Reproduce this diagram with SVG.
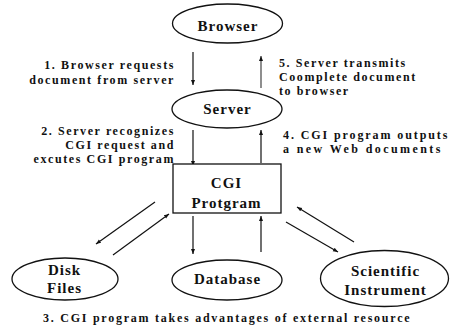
<svg xmlns="http://www.w3.org/2000/svg" width="451" height="327" viewBox="0 0 451 327">
<style>
.node{fill:#fff;stroke:#111;stroke-width:1.3}
.nt{font-family:'Liberation Serif','Times New Roman',serif;font-weight:700;font-size:15px;letter-spacing:1px;fill:#111;text-anchor:middle}
.lb{font-family:'Liberation Serif','Times New Roman',serif;font-weight:700;font-size:12px;letter-spacing:1.6px;fill:#111}
.r{text-anchor:end}
.c{stroke:#111;stroke-width:1.2;fill:none;marker-end:url(#ah)}
</style>
<defs>
<marker id="ah" viewBox="0 0 10 10" refX="10" refY="5" markerWidth="5" markerHeight="5" markerUnits="userSpaceOnUse" orient="auto">
<path d="M0,1 L10,5 L0,9 Z" fill="#111"/>
</marker>
</defs>
<rect width="451" height="327" fill="#fff"/>
<g id="connectors">
<line class="c" x1="193" y1="52" x2="193" y2="85"/>
<line class="c" x1="261" y1="88" x2="261" y2="56" style="stroke:#444"/>
<line class="c" x1="193" y1="130" x2="193" y2="166"/>
<line class="c" x1="261" y1="163" x2="261" y2="130"/>
<line class="c" x1="193" y1="216" x2="193" y2="254"/>
<line class="c" x1="261" y1="252" x2="261" y2="216"/>
<line class="c" x1="155" y1="202" x2="96" y2="244"/>
<line class="c" x1="113" y1="255" x2="169" y2="214"/>
<line class="c" x1="286" y1="222" x2="338" y2="252"/>
<line class="c" x1="354" y1="242" x2="297" y2="207"/>
</g>
<g id="browser">
<ellipse class="node" cx="227.5" cy="23.5" rx="55" ry="19.5"/>
<text class="nt" x="228" y="31">Browser</text>
</g>
<g id="server">
<ellipse class="node" cx="227" cy="109" rx="55" ry="19"/>
<text class="nt" x="227.5" y="114">Server</text>
</g>
<g id="cgi">
<rect class="node" x="173" y="164" width="108" height="49" stroke-width="1.6"/>
<text class="nt" x="226.5" y="188">CGI</text>
<text class="nt" x="226.5" y="208">Protgram</text>
</g>
<g id="disk">
<ellipse class="node" cx="65" cy="279" rx="53" ry="21"/>
<text class="nt" x="64.5" y="275">Disk</text>
<text class="nt" x="64.5" y="293">Files</text>
</g>
<g id="database">
<ellipse class="node" cx="227" cy="280" rx="55" ry="20"/>
<text class="nt" x="227.5" y="284">Database</text>
</g>
<g id="scientific">
<ellipse class="node" cx="384.5" cy="278.5" rx="64" ry="28"/>
<text class="nt" x="385.5" y="276">Scientific</text>
<text class="nt" x="385.5" y="295">Instrument</text>
</g>
<g id="labels">
<text class="lb r" x="175" y="69">1. Browser requests</text>
<text class="lb r" x="175" y="84">document from server</text>
<text class="lb" x="279" y="67">5. Server transmits</text>
<text class="lb" x="279" y="81">Coomplete document</text>
<text class="lb" x="279" y="95">to browser</text>
<text class="lb r" x="175" y="135">2. Server recognizes</text>
<text class="lb r" x="175" y="149">CGI request and</text>
<text class="lb r" x="175" y="163">excutes CGI program</text>
<text class="lb" x="283" y="139" style="letter-spacing:1.9px">4. CGI program outputs</text>
<text class="lb" x="283" y="153" style="letter-spacing:2.4px">a new Web documents</text>
<text class="lb" x="43" y="322" style="letter-spacing:1.75px">3. CGI program takes advantages of external resource</text>
</g>
</svg>
